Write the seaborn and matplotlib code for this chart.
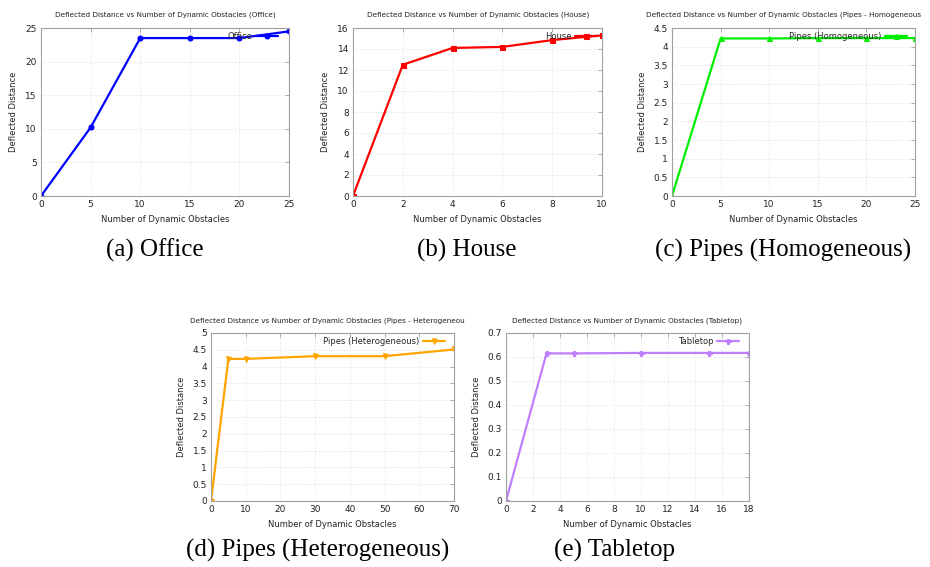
import matplotlib
matplotlib.use("Agg")
import matplotlib.pyplot as plt
import matplotlib.ticker as mticker
import seaborn as sns

# datos
office_x = [0, 5, 10, 15, 20, 25]
office_y = [0, 10.2, 23.5, 23.5, 23.5, 24.5]

house_x = [0, 2, 4, 6, 8, 10]
house_y = [0, 12.5, 14.1, 14.2, 14.85, 15.3]

homo_x = [0, 5, 10, 15, 20, 25]
homo_y = [0, 4.22, 4.22, 4.23, 4.23, 4.23]

hetero_x = [0, 5, 10, 30, 50, 70]
hetero_y = [0, 4.23, 4.23, 4.31, 4.31, 4.51]

table_x = [0, 3, 5, 10, 15, 18]
table_y = [0, 0.615, 0.615, 0.617, 0.617, 0.617]

titulos = [
    "Deflected Distance vs Number of Dynamic Obstacles (Office)",
    "Deflected Distance vs Number of Dynamic Obstacles (House)",
    "Deflected Distance vs Number of Dynamic Obstacles (Pipes - Homogeneous",
    "Deflected Distance vs Number of Dynamic Obstacles (Pipes - Heterogeneou",
    "Deflected Distance vs Number of Dynamic Obstacles (Tabletop)",
]
leyendas = ["Office", "House", "Pipes (Homogeneous)", "Pipes (Heterogeneous)", "Tabletop"]
captions = ["(a) Office", "(b) House", "(c) Pipes (Homogeneous)", "(d) Pipes (Heterogeneous)", "(e) Tabletop"]

sns.set_style("white")
plt.rcParams['font.family'] = ['DejaVu Sans']

W, H = 930, 567
fig = plt.figure(figsize=(W / 100, H / 100), dpi=100)

# cajas de ejes en pixeles (izq, arriba, der, abajo)
cajas = [(41, 28, 289, 196), (353, 28, 602, 196), (672, 28, 915, 196),
         (211, 333, 454, 501), (506, 333, 749, 501)]

paneles = [
    (office_x, office_y, "#0000ff", "o", (0, 25, 5), (0, 25, 5)),
    (house_x, house_y, "#ff0000", "s", (0, 10, 2), (0, 16, 2)),
    (homo_x, homo_y, "#00ee00", "^", (0, 25, 5), (0, 4.5, 0.5)),
    (hetero_x, hetero_y, "#ffa500", "v", (0, 70, 10), (0, 5, 0.5)),
    (table_x, table_y, "#bf7fff", "P", (0, 18, 2), (0, 0.7, 0.1)),
]
leg_anchor = [(0.956, 0.975), (0.98, 0.975), (0.967, 0.975), (0.963, 0.975), (0.959, 0.975)]
title_pos = [(165, 15, "center"), (478, 15, "center"), (646, 15, "left"),
             (190, 321, "left"), (627, 321, "center")]
caption_pos = [(155, 250), (467, 250), (783, 250), (318, 550), (615, 550)]

for i, (xs, ys, color, mk, xl, yl) in enumerate(paneles):
    l, t, r, b = cajas[i]
    ax = fig.add_axes([l / W, 1 - b / H, (r - l) / W, (b - t) / H])
    sns.lineplot(x=xs, y=ys, ax=ax, color=color, marker=mk, markersize=3.6,
                 markeredgecolor=color, linewidth=1.6, label=leyendas[i])
    ax.set_xlim(xl[0], xl[1])
    ax.set_ylim(yl[0], yl[1])
    ax.xaxis.set_major_locator(mticker.MultipleLocator(xl[2]))
    ax.yaxis.set_major_locator(mticker.MultipleLocator(yl[2]))
    ax.xaxis.set_major_formatter(mticker.FormatStrFormatter('%g'))
    ax.yaxis.set_major_formatter(mticker.FormatStrFormatter('%g'))
    ax.grid(True, color="#d8d8d8", linestyle=(0, (1, 2)), linewidth=0.6)
    for s in ax.spines.values():
        s.set_color("#a0a0a0")
        s.set_linewidth(0.8)
    ax.tick_params(direction="in", length=3, width=0.6, color="#a0a0a0",
                   labelsize=6.5, labelcolor="#222222", top=True, right=True, pad=3)
    ax.set_xlabel("Number of Dynamic Obstacles", fontsize=6, color="#222222", labelpad=4)
    ax.set_ylabel("Deflected Distance", fontsize=6, color="#222222", labelpad=5)
    leg = ax.legend(loc="upper right", bbox_to_anchor=leg_anchor[i], frameon=False,
                    markerfirst=False, fontsize=6, handlelength=2.6, borderpad=0,
                    borderaxespad=0, handletextpad=0.5)
    tx, ty, ha = title_pos[i]
    fig.text(tx / W, 1 - ty / H, titulos[i], fontsize=5.2, color="#222222",
             ha=ha, va="center")
    cx, cy = caption_pos[i]
    fig.text(cx / W, 1 - cy / H, captions[i], fontsize=18, family=["Liberation Serif"],
             ha="center", va="center", color="black")

fig.savefig("out.png", dpi=100)
